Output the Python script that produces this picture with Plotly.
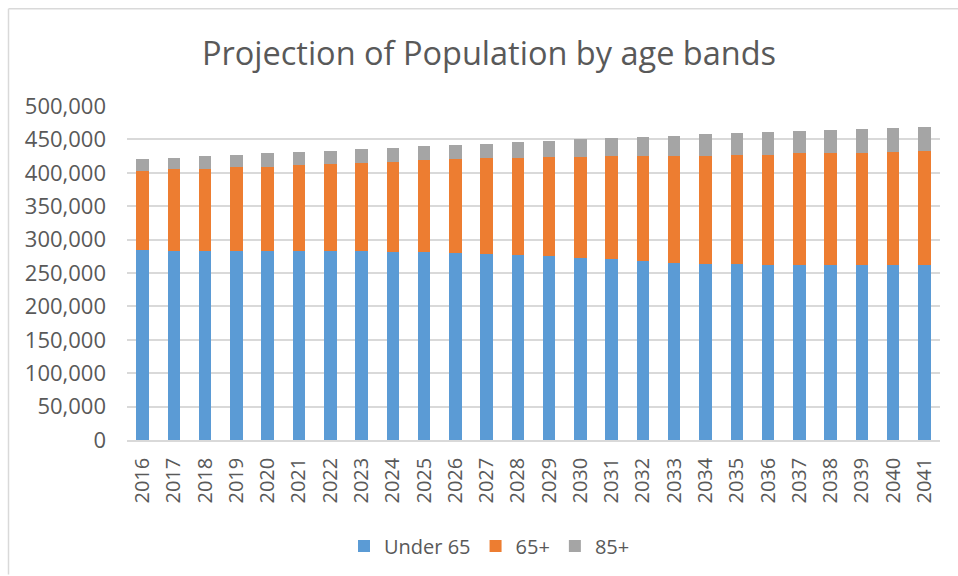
import plotly.graph_objects as go

# Projection values (people)
years = [str(y) for y in range(2016, 2042)]

under_65 = [284000, 283500, 283300, 283200, 283100, 283000, 282900, 282500, 281800, 281100,
            280100, 279100, 277100, 275100, 272700, 271100, 268300, 265300, 264200, 263300,
            262400, 261900, 261700, 261700, 261800, 262000]
age_65_plus = [119000, 121500, 123100, 124800, 126300, 128400, 131000, 132400, 135100, 137800,
               140300, 142800, 145800, 148300, 151700, 153800, 156300, 159600, 161700, 163100,
               165000, 167000, 167700, 168600, 170000, 170300]
age_85_plus = [17900, 17800, 18600, 18900, 19500, 19400, 19400, 20400, 20400, 21400,
               21900, 21900, 23400, 24900, 25800, 26800, 29100, 30800, 31800, 32800,
               33300, 33300, 34800, 35400, 35400, 36400]

series = [("Under 65", under_65, "#5B9BD5"),
          ("65+", age_65_plus, "#ED7D31"),
          ("85+", age_85_plus, "#A5A5A5")]

txt = "#595959"
font = "Open Sans"

fig = go.Figure()
for name, vals, col in series:
    fig.add_trace(go.Bar(x=years, y=vals, name=name, marker=dict(color=col, line=dict(width=0))))

# plot area in pixels: x 127..940, y 106..441
W, H = 958, 576
L, R, T, B = 127, 940, 106, 441
def px(x): return (x - L) / (R - L)
def py(y): return (B - y) / (B - T)

fig.update_layout(
    width=W, height=H,
    barmode="stack", bargap=0.6,
    paper_bgcolor="white", plot_bgcolor="white",
    margin=dict(l=L, r=W - R, t=T, b=H - B),
    font=dict(family=font, color=txt, size=20),
    title=dict(text="Projection of Population by age bands", x=489 / W, xanchor="center",
               y=(H - 54) / H, yanchor="middle", font=dict(size=32.5, color=txt)),
    legend=dict(orientation="h", x=px(489.5), xanchor="center", y=py(546), yanchor="middle",
                font=dict(size=20, color=txt), traceorder="normal", itemwidth=30),
    showlegend=True,
    shapes=[
        dict(type="line", xref="paper", yref="paper", x0=px(8.5), x1=px(W), y0=py(8.5), y1=py(8.5),
             line=dict(color="#d9d9d9", width=1.5)),
        dict(type="line", xref="paper", yref="paper", x0=px(8.5), x1=px(8.5), y0=py(8.5), y1=py(H),
             line=dict(color="#d9d9d9", width=1.5)),
    ],
)
fig.update_xaxes(tickangle=-90, showline=True, linecolor="#d9d9d9", linewidth=1.5,
                 showgrid=False, ticks="", ticklabelstandoff=8, tickfont=dict(size=20, color=txt))
fig.update_yaxes(range=[0, 500000], dtick=50000, tickformat=",", showgrid=True,
                 gridcolor="#d9d9d9", gridwidth=1.5, zeroline=False, ticks="",
                 ticklabelstandoff=20, tickfont=dict(size=22, color=txt))

fig.write_html("out.html", config={"displayModeBar": False},
               post_script="document.body.style.margin='0';")
